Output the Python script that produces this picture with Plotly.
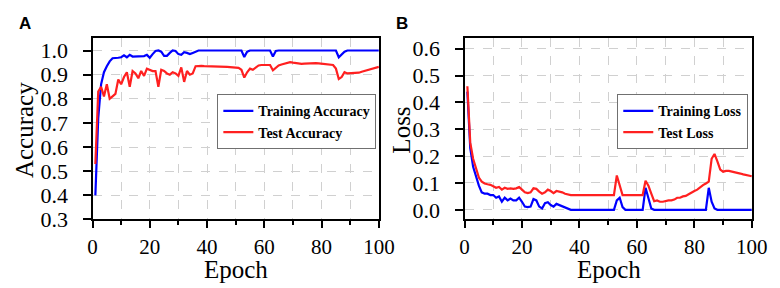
import plotly.graph_objects as go

epochs = list(range(1, 101))

train_acc = [
    0.40, 0.72, 0.86, 0.91, 0.935, 0.955, 0.968, 0.968, 0.970, 0.972,
    0.980, 0.972, 0.982, 0.975, 0.976, 0.975, 0.978, 0.977, 0.982, 0.970,
    0.985, 0.998, 1.0, 0.995, 0.978, 0.978, 0.990, 1.0, 0.998, 0.985,
    0.982, 0.993, 0.990, 0.985, 0.990, 0.995, 1.0, 1.0, 1.0, 1.0,
    1.0, 1.0, 1.0, 1.0, 1.0, 1.0, 1.0, 1.0, 1.0, 1.0,
    1.0, 1.0, 0.973, 0.995, 1.0, 1.0, 1.0, 1.0, 1.0, 1.0,
    1.0, 1.0, 0.975, 0.998, 1.0, 1.0, 1.0, 1.0, 1.0, 1.0,
    1.0, 1.0, 1.0, 1.0, 1.0, 1.0, 1.0, 1.0, 1.0, 1.0,
    1.0, 1.0, 1.0, 1.0, 1.0, 0.972, 0.982, 0.995, 1.0, 1.0,
    1.0, 1.0, 1.0, 1.0, 1.0, 1.0, 1.0, 1.0, 1.0, 1.0,
]

test_acc = [
    0.53, 0.83, 0.85, 0.81, 0.86, 0.80, 0.81, 0.82, 0.88, 0.86,
    0.89, 0.91, 0.85, 0.915, 0.905, 0.885, 0.915, 0.895, 0.925, 0.92,
    0.915, 0.915, 0.85, 0.92, 0.915, 0.905, 0.90, 0.91, 0.905, 0.895,
    0.93, 0.87, 0.915, 0.90, 0.905, 0.935, 0.937, 0.936, 0.935, 0.935,
    0.934, 0.934, 0.933, 0.933, 0.932, 0.932, 0.932, 0.931, 0.931, 0.930,
    0.928, 0.920, 0.888, 0.910, 0.925, 0.920, 0.930, 0.938, 0.940, 0.940,
    0.942, 0.940, 0.918, 0.930, 0.938, 0.942, 0.945, 0.950, 0.952, 0.950,
    0.948, 0.947, 0.945, 0.946, 0.947, 0.946, 0.947, 0.948, 0.947, 0.946,
    0.945, 0.945, 0.944, 0.940, 0.925, 0.882, 0.890, 0.910, 0.905, 0.906,
    0.905, 0.906, 0.908, 0.912, 0.915, 0.918, 0.920, 0.924, 0.928, 0.932,
]

train_loss = [
    0.44, 0.23, 0.16, 0.12, 0.09, 0.065, 0.06, 0.06, 0.055, 0.055,
    0.045, 0.05, 0.03, 0.045, 0.035, 0.042, 0.035, 0.035, 0.045, 0.03,
    0.012, 0.01, 0.012, 0.04, 0.035, 0.012, 0.005, 0.025, 0.028, 0.018,
    0.012, 0.022, 0.018, 0.012, 0.008, 0.003, 0.0, 0.0, 0.0, 0.0,
    0.0, 0.0, 0.0, 0.0, 0.0, 0.0, 0.0, 0.0, 0.0, 0.0,
    0.0, 0.0, 0.035, 0.045, 0.01, 0.0, 0.0, 0.0, 0.0, 0.0,
    0.0, 0.0, 0.082, 0.045, 0.005, 0.0, 0.0, 0.0, 0.0, 0.0,
    0.0, 0.0, 0.0, 0.0, 0.0, 0.0, 0.0, 0.0, 0.0, 0.0,
    0.0, 0.0, 0.0, 0.0, 0.082, 0.03, 0.005, 0.0, 0.0, 0.0,
    0.0, 0.0, 0.0, 0.0, 0.0, 0.0, 0.0, 0.0, 0.0, 0.0,
]

test_loss = [
    0.46, 0.25, 0.19, 0.15, 0.12, 0.105, 0.098, 0.095, 0.093, 0.088,
    0.082, 0.085, 0.075, 0.082, 0.078, 0.08, 0.078, 0.08, 0.085, 0.075,
    0.065, 0.062, 0.065, 0.08, 0.078, 0.068, 0.06, 0.065, 0.075, 0.07,
    0.062, 0.07, 0.068, 0.065, 0.06, 0.057, 0.055, 0.055, 0.055, 0.055,
    0.055, 0.055, 0.055, 0.055, 0.055, 0.055, 0.055, 0.055, 0.055, 0.055,
    0.055, 0.055, 0.128, 0.09, 0.055, 0.055, 0.055, 0.055, 0.055, 0.055,
    0.055, 0.055, 0.108, 0.09, 0.06, 0.032, 0.035, 0.03, 0.03, 0.033,
    0.035, 0.035, 0.038, 0.045, 0.045, 0.05, 0.052, 0.058, 0.065, 0.07,
    0.075, 0.085, 0.092, 0.098, 0.105, 0.19, 0.208, 0.18, 0.15, 0.142,
    0.145, 0.145, 0.143, 0.14, 0.138, 0.135, 0.132, 0.13, 0.128, 0.125,
]

W, H = 780, 288
BLUE = "#0000ff"
RED = "#ff2020"
SERIF = "Liberation Serif"

fig = go.Figure()
fig.add_trace(go.Scatter(x=epochs, y=train_acc, mode="lines", name="Training Accuracy",
                         line=dict(color=BLUE, width=2.2), xaxis="x", yaxis="y", legend="legend"))
fig.add_trace(go.Scatter(x=epochs, y=test_acc, mode="lines", name="Test Accuracy",
                         line=dict(color=RED, width=2.2), xaxis="x", yaxis="y", legend="legend"))
fig.add_trace(go.Scatter(x=epochs, y=train_loss, mode="lines", name="Training Loss",
                         line=dict(color=BLUE, width=2.2), xaxis="x2", yaxis="y2", legend="legend2"))
fig.add_trace(go.Scatter(x=epochs, y=test_loss, mode="lines", name="Test Loss",
                         line=dict(color=RED, width=2.2), xaxis="x2", yaxis="y2", legend="legend2"))

def px_x(p):
    return p / W

def px_y(p):
    return 1 - p / H

grid = dict(showgrid=True, gridcolor="#d0d0d0", griddash="dash", gridwidth=1)
tickfont = dict(family=SERIF, size=21, color="black")
common_x = dict(range=[0, 100], dtick=20, tick0=0, ticks="outside", ticklen=7, tickwidth=1.5,
                tickcolor="black", showline=True, linecolor="black", linewidth=2, mirror=True,
                zeroline=False, tickfont=tickfont, ticklabelstandoff=0,
                minor=dict(dtick=10, ticks="outside", ticklen=4, tickwidth=1.5, tickcolor="black",
                           showgrid=True, gridcolor="#d0d0d0", griddash="dash", gridwidth=1),
                **grid)
common_y = dict(dtick=0.1, ticks="outside", ticklen=8, tickwidth=1.5, tickcolor="black",
                showline=True, linecolor="black", linewidth=2, mirror=True, zeroline=False,
                tickformat=".1f", tickfont=dict(family=SERIF, size=22, color="black"),
                ticklabelstandoff=10, **grid)
legfont = dict(family=SERIF, size=14, color="black", weight="bold")
titlefont = dict(family=SERIF, size=25, color="black")

def title_ann(text, x, y, angle=0):
    return dict(text=text, x=px_x(x), y=px_y(y), xref="paper", yref="paper",
                xanchor="center", yanchor="middle", showarrow=False, textangle=angle,
                font=titlefont)

fig.update_layout(
    width=W, height=H,
    margin=dict(l=0, r=0, t=0, b=0),
    paper_bgcolor="white", plot_bgcolor="white",
    xaxis=dict(domain=[px_x(81.7), px_x(376)], anchor="y", **common_x),
    yaxis=dict(domain=[px_y(221), px_y(30)], anchor="x", range=[0.3, 1.05], tick0=0.3,
               **common_y),
    xaxis2=dict(domain=[px_x(464), px_x(759.3)], anchor="y2", **common_x),
    yaxis2=dict(domain=[px_y(221), px_y(30)], anchor="x2", range=[-0.036, 0.638], tick0=0,
                **common_y),
    legend=dict(x=px_x(210), y=px_y(89), xanchor="left", yanchor="top",
                bordercolor="#707070", borderwidth=1, bgcolor="white",
                font=legfont, tracegroupgap=0, itemwidth=30),
    legend2=dict(x=px_x(621), y=px_y(89), xanchor="left", yanchor="top",
                 bordercolor="#707070", borderwidth=1, bgcolor="white",
                 font=legfont, tracegroupgap=0, itemwidth=30),
    annotations=[
        dict(text="<b>A</b>", x=px_x(4), y=px_y(2), xref="paper", yref="paper",
             xanchor="left", yanchor="top", showarrow=False,
             font=dict(family="Liberation Sans", size=17, color="black")),
        dict(text="<b>B</b>", x=px_x(392), y=px_y(2), xref="paper", yref="paper",
             xanchor="left", yanchor="top", showarrow=False,
             font=dict(family="Liberation Sans", size=17, color="black")),
        title_ann("Epoch", 229, 274),
        title_ann("Epoch", 612, 274),
        title_ann("Accuracy", 12, 127, -90),
        title_ann("Loss", 399, 127, -90),
    ],
)

fig.write_html("out.html")
